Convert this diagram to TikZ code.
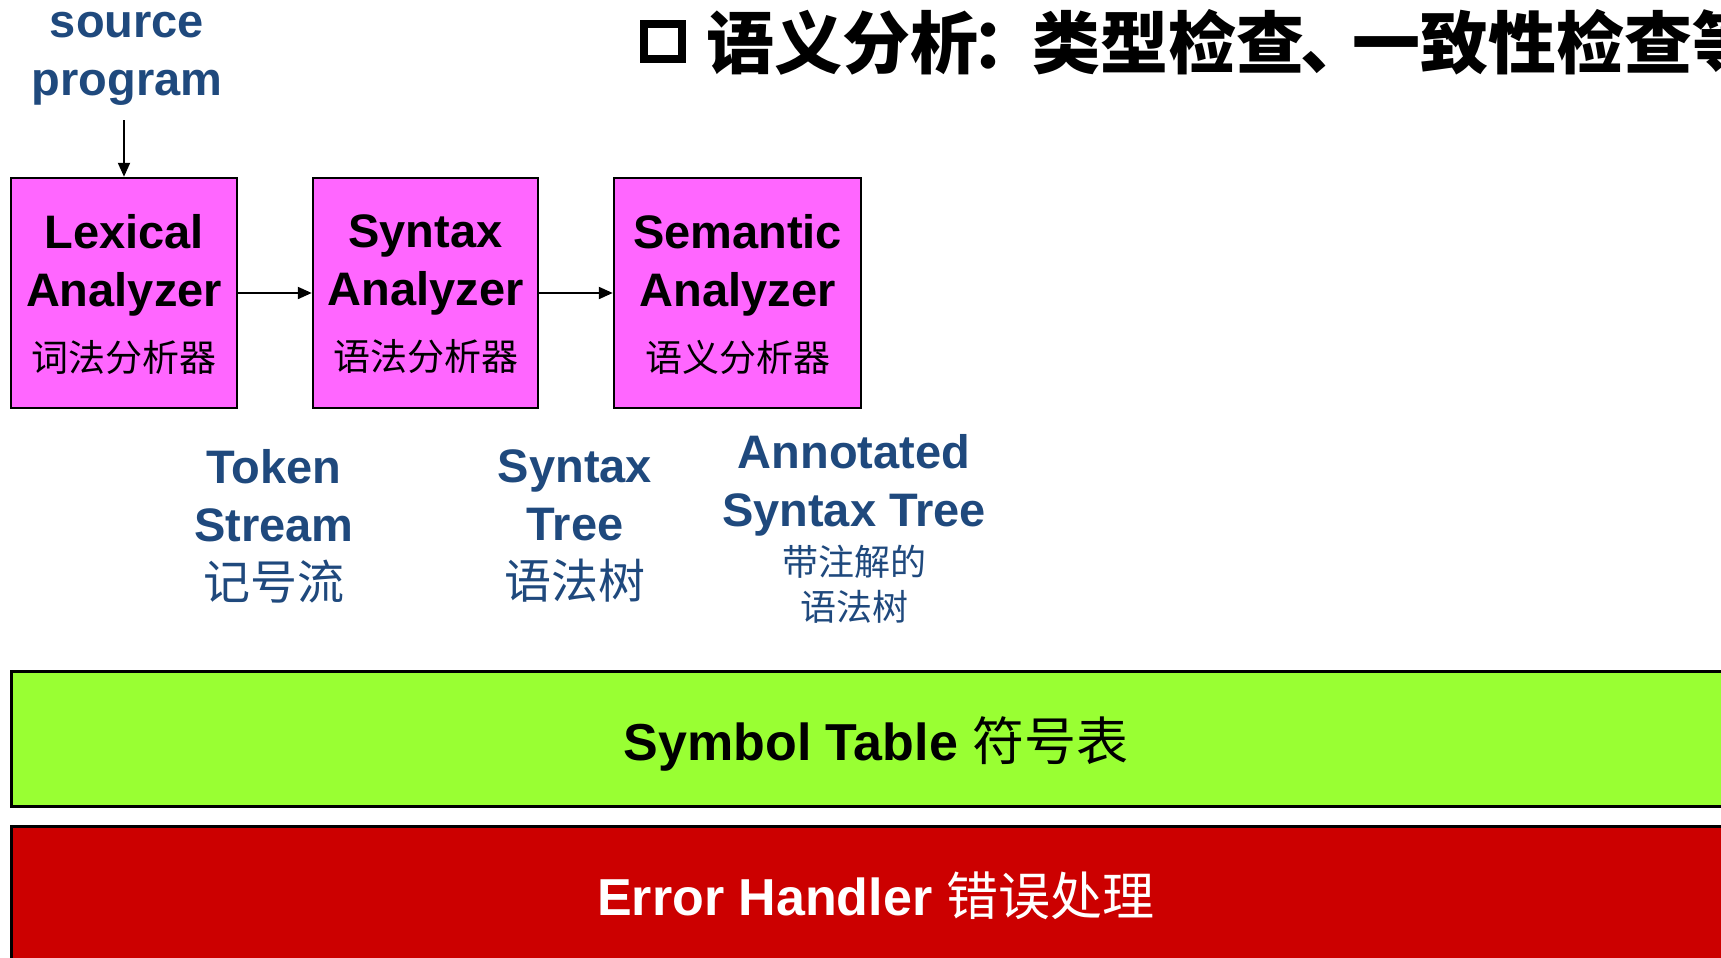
\documentclass[tikz,border=0pt]{standalone}
\usepackage{fontspec}
\setmainfont{Liberation Sans}
\newfontfamily\cjk{Noto Sans CJK SC}
\usetikzlibrary{arrows.meta}
\definecolor{stagefill}{HTML}{FF66FF}
\definecolor{symfill}{HTML}{99FF33}
\definecolor{errfill}{HTML}{CC0000}
\definecolor{labelblue}{RGB}{31,73,125}
\newcommand\stagecn{\cjk\mdseries\fontsize{37}{37}\selectfont}
\newcommand\labelcn{\cjk\mdseries\fontsize{47}{58}\selectfont}
\newcommand\notecn{\cjk\mdseries\fontsize{36}{44}\selectfont}
\begin{document}
\begin{tikzpicture}[x=1pt,y=-1pt,
  stagebox/.style={draw=black, line width=2.5pt, fill=stagefill, minimum height=230pt,
    inner sep=0pt, align=center, text depth=-4pt, font=\bfseries\fontsize{47}{58}\selectfont},
  flowlabel/.style={anchor=north, inner sep=0pt, align=center, text=labelblue,
    font=\bfseries\fontsize{47}{58}\selectfont},
  bar/.style={draw=black, line width=3pt, minimum width=1730pt, inner sep=0pt,
    font=\bfseries\fontsize{52}{52}\selectfont},
  arr/.style={line width=2.2pt, -{Triangle[length=14pt,width=12pt]}}
]
\useasboundingbox (0,0) rectangle (1721,958);

% heading
\node[draw=black, line width=8pt, minimum width=38pt, minimum height=35pt, inner sep=0pt]
  (bullet) at (663,41.5) {};
\node[anchor=west, inner sep=0pt, font=\cjk\bfseries\fontsize{68}{68}\selectfont]
  (title) at (706,42)
  {语义分析\kern-7pt：\kern-7pt 类型检查\kern-4pt 、\kern-16pt 一致性检查等};

% compiler front-end stages
\node[flowlabel, anchor=south] (src) at (127,106) {source\\program};
\node[stagebox, minimum width=226pt] (lex) at (124,293)
  {Lexical\\Analyzer\\[7pt]\stagecn 词法分析器};
\node[stagebox, minimum width=225pt] (syn) at (425.5,293)
  {Syntax\\Analyzer\\[7pt]\stagecn 语法分析器};
\node[stagebox, minimum width=247pt] (sem) at (737.5,293)
  {Semantic\\Analyzer\\[7pt]\stagecn 语义分析器};

\draw[arr, shorten <=14pt] (src.south -| lex.north) -- (lex.north);
\draw[arr] (lex.east) -- (syn.west);
\draw[arr] (syn.east) -- (sem.west);

% intermediate representations
\node[flowlabel] (tok) at (274,449)
  {Token\\Stream\\\labelcn 记号流};
\node[flowlabel] (tree) at (575,449)
  {Syntax\\Tree\\\labelcn 语法树};
\node[flowlabel] (ast) at (854,434)
  {Annotated\\Syntax Tree\\[-9pt]\notecn 带注解的\\[-13pt]\notecn 语法树};

% shared services
\node[bar, fill=symfill, minimum height=135pt, text depth=0pt] (symtab) at (876,738.5)
  {Symbol Table {\cjk\mdseries 符号表}};
\node[bar, fill=errfill, text=white, minimum height=140pt] (err) at (876,896)
  {Error Handler {\cjk\mdseries 错误处理}};
\end{tikzpicture}
\end{document}
